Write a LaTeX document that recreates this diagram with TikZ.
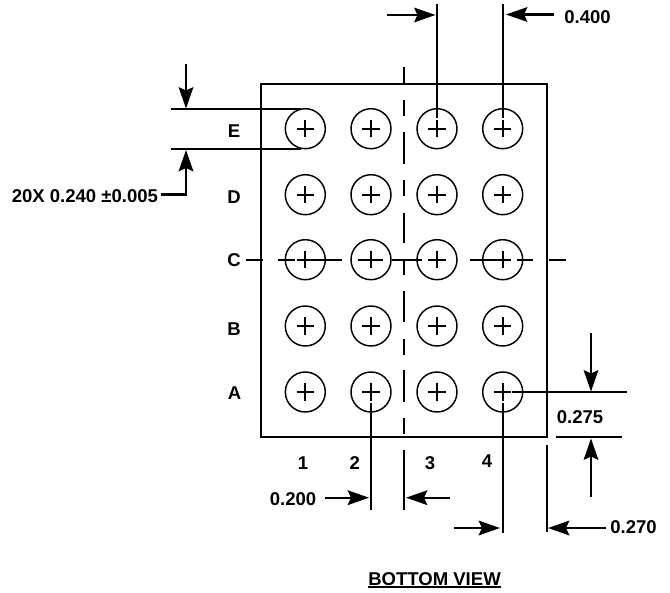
\documentclass[tikz,border=0pt]{standalone}
\usepackage{fontspec}
\setmainfont{Liberation Sans}
\usetikzlibrary{arrows.meta}
\tikzset{
  x=0.75pt,y=-0.75pt,
  heavy/.style={line width=1.6pt},
  ball/.style={circle,draw,line width=1.1pt,minimum size=30pt,inner sep=0pt,outer sep=0pt},
  crossmark/.style={line width=1.25pt},
  lab/.style={inner sep=0pt,outer sep=0pt,font=\fontsize{13.9}{15}\selectfont\bfseries},
  dimarrow/.style={heavy,-{Stealth[length=16pt,width=11pt,inset=2.5pt]}},
}
\begin{document}
\begin{tikzpicture}
\useasboundingbox (0,0) rectangle (670,592);
% body
\node[draw,heavy,minimum width=214.5pt,minimum height=264.75pt,inner sep=0pt,outer sep=0pt] (body) at (404,260.5) {};
% balls
\foreach \r/\yy in {E/128.7,D/194.7,C/259.7,B/326,A/392}{
  \foreach \c/\xx in {1/305.3,2/371,3/437,4/502.7}{
    \node[ball] (b\r\c) at (\xx,\yy) {};
    \draw[crossmark] (\xx-8.7,\yy) -- (\xx+8.7,\yy) (\xx,\yy-8.7) -- (\xx,\yy+8.7);
  }
}
% centre lines
\foreach \a/\b in {67/84,100/116,132/164,180/196,213/243,260/275,291/322,339/355,370/402,418/434}
  \draw[heavy] (404,\a) -- (404,\b);
\foreach \a/\b in {246/263,278/295,297/342,358/383,392/422,470/510,517/533,549/566}
  \draw[heavy] (\a,259.7) -- (\b,259.7);
% labels
\node[lab] (rE) at (234,131) {E};
\node[lab] (rD) at (234,197) {D};
\node[lab] (rC) at (234,260) {C};
\node[lab] (rB) at (234,329) {B};
\node[lab] (rA) at (234.5,393) {A};
\node[lab] (c1) at (303,463) {1};
\node[lab] (c2) at (354.7,463) {2};
\node[lab] (c3) at (430,463) {3};
\node[lab] (c4) at (487,461) {4};
\node[lab] (d400) at (587.5,17) {0.400};
\node[lab,anchor=east] (d240) at (158,196.5) {20X 0.240 ±0.005};
\node[lab] (d275) at (580,417) {0.275};
\node[lab] (d200) at (293,499) {0.200};
\node[lab] (d270) at (633.5,527.5) {0.270};
\node[lab,anchor=base] (title) at (434.5,585) {BOTTOM VIEW};
\draw[heavy] ([yshift=-1.5pt]title.south west) -- ([yshift=-1.5pt]title.south east);
% free ends of extension and dimension lines
\coordinate (topA) at (437,4);
\coordinate (topAe) at (437,118);
\coordinate (topB) at (502.7,4);
\coordinate (topBe) at (502.7,118);
\coordinate (eTopL) at (171,109);
\coordinate (eTopR) at (301,109);
\coordinate (eBotL) at (171,149);
\coordinate (eBotR) at (301,149);
\coordinate (aRs) at (512,392);
\coordinate (aRe) at (627,392);
\coordinate (bRs) at (556,437);
\coordinate (bRe) at (622,437);
\coordinate (v2s) at (371,403);
\coordinate (v2e) at (371,510);
\coordinate (v3s) at (404,450);
\coordinate (v3e) at (404,510);
\coordinate (v4s) at (502.7,403);
\coordinate (v4e) at (502.7,532.7);
\coordinate (v5s) at (547,445);
\coordinate (v5e) at (547,532);
\draw[heavy] (topA) -- (topAe);
\draw[heavy] (topB) -- (topBe);
\draw[heavy] (eTopL) -- (eTopR);
\draw[heavy] (eBotL) -- (eBotR);
\draw[heavy] (aRs) -- (aRe);
\draw[heavy] (bRs) -- (bRe);
\draw[heavy] (v2s) -- (v2e);
\draw[heavy] (v3s) -- (v3e);
\draw[heavy] (v4s) -- (v4e);
\draw[heavy] (v5s) -- (v5e);
% dimension arrows
\coordinate (t1) at (387,15);
\coordinate (t1h) at (435.5,15);
\coordinate (t2) at (554,14.5);
\coordinate (t2h) at (506,14.5);
\draw[dimarrow] (t1) -- (t1h);
\draw[dimarrow] (t2) -- (t2h);
\coordinate (l1) at (186,64);
\coordinate (l1h) at (186,108.5);
\coordinate (l2s) at (161,194.5);
\coordinate (l2c) at (186,194.5);
\coordinate (l2h) at (186,150);
\draw[dimarrow] (l1) -- (l1h);
\draw[dimarrow] (l2s) -- (l2c) -- (l2h);
\coordinate (r1) at (591,333);
\coordinate (r1h) at (591,391.5);
\coordinate (r2) at (591,497);
\coordinate (r2h) at (591,438.5);
\draw[dimarrow] (r1) -- (r1h);
\draw[dimarrow] (r2) -- (r2h);
\coordinate (m1) at (325,497.7);
\coordinate (m1h) at (369,497.7);
\coordinate (m2) at (450,497.7);
\coordinate (m2h) at (406,497.7);
\draw[dimarrow] (m1) -- (m1h);
\draw[dimarrow] (m2) -- (m2h);
\coordinate (n1) at (454,528);
\coordinate (n1h) at (500,528);
\coordinate (n2) at (606,528);
\coordinate (n2h) at (548,528);
\draw[dimarrow] (n1) -- (n1h);
\draw[dimarrow] (n2) -- (n2h);
\end{tikzpicture}
\end{document}
